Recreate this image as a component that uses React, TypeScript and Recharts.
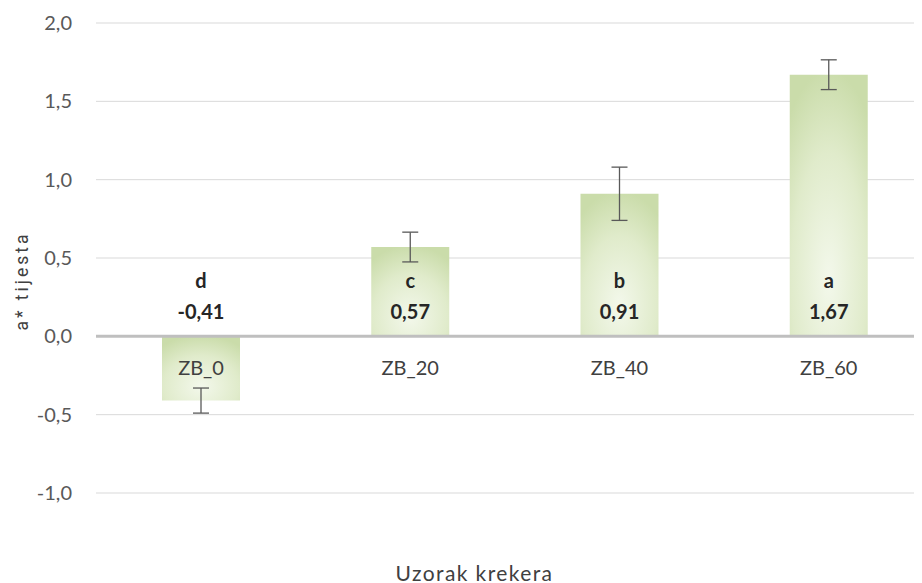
import React from 'react';
import { BarChart, Bar, XAxis, YAxis, CartesianGrid, ReferenceLine, ErrorBar, LabelList } from 'recharts';

const categories = ['ZB_0', 'ZB_20', 'ZB_40', 'ZB_60'];
const means = [-0.41, 0.57, 0.91, 1.67];
const errors = [0.08, 0.095, 0.17, 0.095];
const letters = ['d', 'c', 'b', 'a'];
const yTicks = [-1, -0.5, 0, 0.5, 1, 1.5, 2];

const data = categories.map((name, i) => ({ name, value: means[i], err: errors[i] }));

const fmt1 = (v: number) => v.toFixed(1).replace('.', ',');
const fmt2 = (v: number) => v.toFixed(2).replace('.', ',');

const FONT = 'Lato, "Open Sans", sans-serif';

if (typeof document !== 'undefined') {
  document.documentElement.style.overflow = 'hidden';
  document.body.style.overflow = 'hidden';
}

const BarLabels = (props: any) => {
  const vb = props.viewBox && props.viewBox.width !== undefined ? props.viewBox : props;
  const x = Number(vb.x);
  const y = Number(vb.y);
  const w = Number(vb.width);
  const h = Number(vb.height);
  const idx = typeof props.index === 'number' ? props.index : means.indexOf(Number(props.value));
  const v = means[idx];
  const zero = v >= 0 ? Math.max(y, y + h) : Math.min(y, y + h);
  const cx = x + w / 2;
  return (
    <g>
      <text x={cx} y={zero - 56} textAnchor="middle" dominantBaseline="central" fill="#262626"
        style={{ fontFamily: FONT, fontSize: 20, fontWeight: 700 }}>{letters[idx]}</text>
      <text x={cx} y={zero - 25} textAnchor="middle" dominantBaseline="central" fill="#262626"
        style={{ fontFamily: FONT, fontSize: 20, fontWeight: 700 }}>{fmt2(v)}</text>
      <text x={cx} y={zero + 31} textAnchor="middle" dominantBaseline="central" fill="#404040"
        style={{ fontFamily: FONT, fontSize: 20 }}>{categories[idx]}</text>
    </g>
  );
};

const YLabel = (props: any) => {
  const vb = props.viewBox || { x: 0, y: 0, width: 0, height: 0 };
  const cx = 14;
  const cy = vb.y + vb.height / 2 + 23;
  return (
    <text x={cx} y={cy} transform={`rotate(-90 ${cx} ${cy})`} textAnchor="middle" dominantBaseline="central"
      fill="#404040" style={{ fontFamily: 'Roboto, "Liberation Sans", Arial, sans-serif', fontSize: 17.5, letterSpacing: 3 }}>
      a* tijesta
    </text>
  );
};

const XLabel = (props: any) => {
  const vb = props.viewBox || { x: 0, y: 0, width: 0, height: 0 };
  const cx = vb.x + vb.width / 2 - 40;
  const cy = vb.y + 79;
  return (
    <text x={cx} y={cy} textAnchor="middle" dominantBaseline="central" fill="#404040"
      style={{ fontFamily: FONT, fontSize: 21, letterSpacing: 1.4 }}>
      Uzorak krekera
    </text>
  );
};

export default function App() {
  return (
    <div style={{ width: 914, height: 575, overflow: 'hidden', background: '#fff' }}>
      <BarChart width={930} height={575} data={data} margin={{ top: 15, right: 5, bottom: 0, left: 0 }} barSize={78}>
        <defs>
          <radialGradient id="barGrad" cx="50%" cy="78%" r="80%">
            <stop offset="0%" stopColor="#f3f8eb" />
            <stop offset="60%" stopColor="#e0ebcb" />
            <stop offset="100%" stopColor="#cadcaa" />
          </radialGradient>
        </defs>
        <CartesianGrid horizontal vertical={false} stroke="#d9d9d9" strokeWidth={1} />
        <XAxis dataKey="name" tick={false} axisLine={false} tickLine={false} height={90} label={<XLabel />} />
        <YAxis
          domain={[-1, 2]}
          ticks={yTicks}
          interval={0}
          width={88}
          axisLine={false}
          tickLine={false}
          tickSize={0}
          tickMargin={24}
          tickFormatter={fmt1}
          tick={{ fill: '#595959', fontSize: 20, fontFamily: FONT }}
          label={<YLabel />}
        />
        <ReferenceLine y={0} stroke="#bfbfbf" strokeWidth={3} />
        <Bar dataKey="value" fill="url(#barGrad)" isAnimationActive={false}>
          <ErrorBar dataKey="err" width={8} stroke="#595959" strokeWidth={1.3} isAnimationActive={false} />
          <LabelList dataKey="value" content={<BarLabels />} />
        </Bar>
      </BarChart>
    </div>
  );
}
